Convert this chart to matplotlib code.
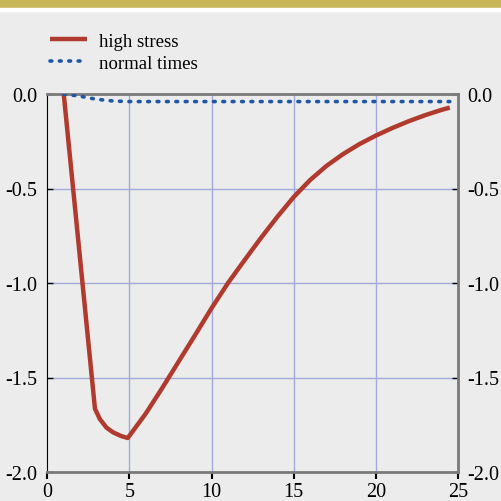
import matplotlib
matplotlib.use("Agg")
import matplotlib.pyplot as plt
from matplotlib.patches import Rectangle

# impulse response, quarters after shock
x_high = [1, 2.9, 3.2, 3.6, 4, 4.5, 4.9, 6, 7, 8, 9, 10, 11, 12, 13, 14, 15,
          16, 17, 18, 19, 20, 21, 22, 23, 24, 24.5]
y_high = [0.0, -1.665, -1.72, -1.765, -1.79, -1.81, -1.82, -1.69, -1.555, -1.415,
          -1.275, -1.133, -1.0, -0.88, -0.762, -0.65, -0.545, -0.455, -0.38,
          -0.318, -0.265, -0.22, -0.18, -0.144, -0.112, -0.084, -0.072]
x_normal = [1, 2, 3, 4, 5, 6, 8, 10, 12, 14, 16, 18, 20, 22, 24, 24.5]
y_normal = [0.0, -0.012, -0.028, -0.037, -0.04, -0.04, -0.04, -0.04, -0.04,
            -0.04, -0.04, -0.04, -0.04, -0.04, -0.04, -0.04]

xticks = [0, 5, 10, 15, 20, 25]
yticks = [0.0, -0.5, -1.0, -1.5, -2.0]
ytick_labels = ["0.0", "-0.5", "-1.0", "-1.5", "-2.0"]

bg = "#ececec"
grid_c = "#a3aadb"
plt.rcParams["font.family"] = ["Liberation Serif", "DejaVu Serif"]

fig = plt.figure(figsize=(5.01, 5.02), dpi=100, facecolor=bg)
# gold band on top
fig.patches.append(Rectangle((0, 1 - 9 / 502), 1, 9 / 502, transform=fig.transFigure,
                             color="#c8b65a", zorder=0))
fig.patches.append(Rectangle((0, 1 - 12 / 502), 1, 3 / 502, transform=fig.transFigure,
                             color="white", zorder=0))

ax = fig.add_axes([47.3 / 501, 1 - 473 / 502, (458 - 47.3) / 501, (473 - 95) / 502])
ax.set_facecolor(bg)
ax.plot(x_high, y_high, color="#b03a2e", linewidth=3.2, label="high stress",
        solid_capstyle="butt", solid_joinstyle="round", zorder=3)
ax.plot(x_normal, y_normal, color="#1f57a8", linewidth=2.6, linestyle=(0, (0.5, 2.1)),
        dash_capstyle="round", label="normal times", zorder=3)

ax.set_xlim(0, 25)
ax.set_ylim(-2.0, 0.0)
ax.set_xticks(xticks)
ax.set_yticks(yticks)
ax.set_yticklabels(ytick_labels)
for v in xticks[1:-1]:
    ax.axvline(v, color=grid_c, linewidth=1, zorder=1)
for v in yticks[1:-1]:
    ax.axhline(v, color=grid_c, linewidth=1, zorder=1)

ax.spines["left"].set_color("black")
for s in ["top", "right", "bottom"]:
    ax.spines[s].set_color("#7a7a7a")
    ax.spines[s].set_linewidth(2)
ax.tick_params(axis="x", direction="out", length=5, width=1.5, colors="black",
               labelsize=14.5, pad=2)
ax.tick_params(axis="y", direction="in", length=4, width=1, labelsize=14.5, pad=7,
               right=True, labelright=True)

handles, labels = ax.get_legend_handles_labels()
fig.legend(handles, labels, loc="upper left", bbox_to_anchor=(42 / 501, 1 - 26 / 502),
           frameon=False, fontsize=13.5, handlelength=2.0, handletextpad=0.65,
           labelspacing=0.26, borderaxespad=0)

fig.savefig("out.png", dpi=100, facecolor=bg)
